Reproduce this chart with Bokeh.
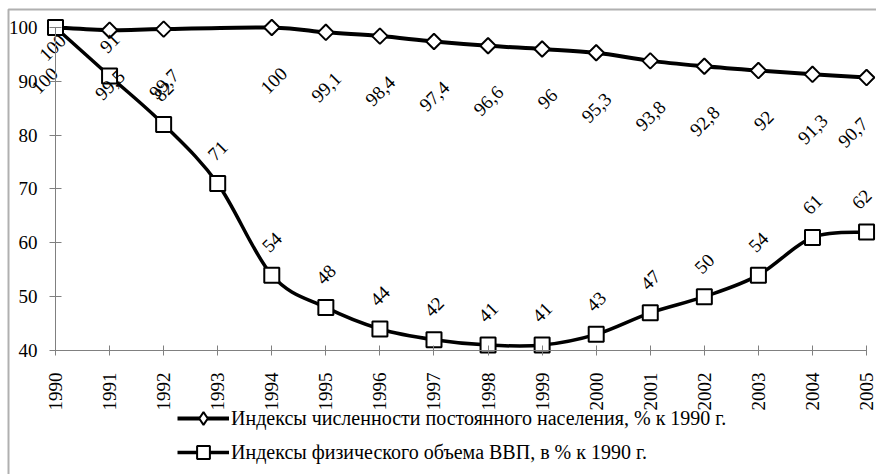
import numpy as np
from bokeh.plotting import figure
from bokeh.models import Range1d, FixedTicker, Legend, LegendItem, BoxAnnotation
from bokeh.core.properties import value
from bokeh.embed import file_html
from bokeh.resources import INLINE

# ---- data ----
years = list(range(1990, 2006))
population = [100, 99.5, 99.7, None, 100, 99.1, 98.4, 97.4, 96.6, 96, 95.3,
              93.8, 92.8, 92, 91.3, 90.7]
gdp = [100, 91, 82, 71, 54, 48, 44, 42, 41, 41, 43, 47, 50, 54, 61, 62]
y_ticks = [40, 50, 60, 70, 80, 90, 100]
pop_name = "Индексы численности постоянного населения, % к 1990 г."
gdp_name = "Индексы физического объема ВВП, в % к 1990 г."

FONT = "Liberation Serif"
W, H = 876, 474
# layout (pixels)
X_1990, PX_YEAR = 55.0, 54.07
Y_100, PX_UNIT = 27.0, 5.3833


def fmt(v):
    return ("%g" % v).replace(".", ",")


def smooth(xs, ys):
    """Bezier segments through the data points (like Excel's smoothed line)."""
    n = len(xs)
    d = dict(x0=[], y0=[], x1=[], y1=[], cx0=[], cy0=[], cx1=[], cy1=[])
    for i in range(n - 1):
        xp, yp = (xs[i - 1], ys[i - 1]) if i > 0 else (xs[i], ys[i])
        xn, yn = (xs[i + 2], ys[i + 2]) if i + 2 < n else (xs[i + 1], ys[i + 1])
        d["x0"].append(xs[i]); d["y0"].append(ys[i])
        d["x1"].append(xs[i + 1]); d["y1"].append(ys[i + 1])
        d["cx0"].append(xs[i] + (xs[i + 1] - xp) / 6.0)
        d["cy0"].append(ys[i] + (ys[i + 1] - yp) / 6.0)
        d["cx1"].append(xs[i + 1] - (xn - xs[i]) / 6.0)
        d["cy1"].append(ys[i + 1] - (yn - ys[i]) / 6.0)
    return d


pop_x = [x for x, v in zip(years, population) if v is not None]
pop_y = [v for v in population if v is not None]

x_start = years[0] - X_1990 / PX_YEAR
x_end = x_start + W / PX_YEAR
y_end = 100 + Y_100 / PX_UNIT
y_start = y_end - H / PX_UNIT

p = figure(width=W, height=H, output_backend="svg", toolbar_location=None,
           x_range=Range1d(x_start, x_end), y_range=Range1d(y_start, y_end),
           min_border=0, min_border_left=0, min_border_right=0,
           min_border_top=0, min_border_bottom=0,
           background_fill_color="white", border_fill_color="white",
           outline_line_color=None)
p.grid.visible = False

# outer chart-area border (gray), top and left edges visible
p.add_layout(BoxAnnotation(left=x_start + 8 / PX_YEAR, top=y_end - 9 / PX_UNIT,
                           right=x_end + 5, bottom=y_start - 20,
                           fill_alpha=0, line_color="#b0b0b0", line_alpha=1.0,
                           line_width=2, level="underlay"))

# axes
xa = p.xaxis[0]
xa.fixed_location = 40
xa.bounds = (1990, 2005)
xa.ticker = FixedTicker(ticks=years)
xa.major_label_orientation = np.pi / 2
xa.major_tick_in = 5
xa.major_tick_out = 5
xa.minor_tick_line_color = None
xa.major_label_standoff = 17
ya = p.yaxis[0]
ya.fixed_location = 1990
ya.bounds = (40, 100)
ya.ticker = FixedTicker(ticks=y_ticks)
ya.major_tick_in = 6
ya.major_tick_out = 6
ya.minor_tick_line_color = None
ya.major_label_standoff = 12
for ax in (xa, ya):
    ax.axis_line_color = "#808080"
    ax.major_tick_line_color = "#808080"
    ax.major_label_text_font = FONT
    ax.major_label_text_font_size = "19px"
    ax.major_label_text_color = "black"

# population series
pop_line = p.bezier(source=smooth(pop_x, pop_y), x0="x0", y0="y0", x1="x1", y1="y1",
                    cx0="cx0", cy0="cy0", cx1="cx1", cy1="cy1",
                    line_color="black", line_width=4)
p.scatter(pop_x, pop_y, marker="square", angle=np.pi / 4, size=11,
          fill_color="white", line_color="black", line_width=2)
# legend key only (no visible point): diamond marker
pop_key = p.scatter(x=[np.nan], y=[np.nan], marker="diamond", size=12,
                    fill_color="white", line_color="black", line_width=2)

# GDP series
gdp_line = p.bezier(source=smooth(years, gdp), x0="x0", y0="y0", x1="x1", y1="y1",
                    cx0="cx0", cy0="cy0", cx1="cx1", cy1="cy1",
                    line_color="black", line_width=3.5)
gdp_pts = p.scatter(years, gdp, marker="square", size=15,
                    fill_color="white", line_color="black", line_width=2)

# data labels (edge labels nudged inwards like the original)
n_pop = len(pop_y)
pop_xoff = [-1 if i == 0 else (-2 if i == n_pop - 1 else 12) for i in range(n_pop)]
p.text(x=pop_x, y=pop_y, text=[fmt(v) for v in pop_y], angle=np.pi / 4,
       text_align="right", text_baseline="middle", x_offset=pop_xoff, y_offset=43,
       text_font=value(FONT), text_font_size="19px", text_color="black")
n_gdp = len(gdp)
gdp_yoff = [20 if v >= 100 else -33 for v in gdp]
gdp_xoff = [-3 if i == 0 else (-5 if i == n_gdp - 1 else 0) for i in range(n_gdp)]
p.text(x=years, y=gdp, text=[fmt(v) for v in gdp], angle=np.pi / 4,
       text_align="center", text_baseline="middle", x_offset=gdp_xoff, y_offset=gdp_yoff,
       text_font=value(FONT), text_font_size="19px", text_color="black")

legend = Legend(items=[LegendItem(label=pop_name, renderers=[pop_line, pop_key]),
                       LegendItem(label=gdp_name, renderers=[gdp_line, gdp_pts])],
                location=(177, 6), orientation="vertical", glyph_width=52, glyph_height=32,
                spacing=2, padding=0, margin=0, label_standoff=2,
                border_line_color=None, background_fill_alpha=0,
                label_text_font=FONT, label_text_font_size="20px", label_text_color="black")
p.add_layout(legend)

open("out.html", "w").write(file_html(p, INLINE))
